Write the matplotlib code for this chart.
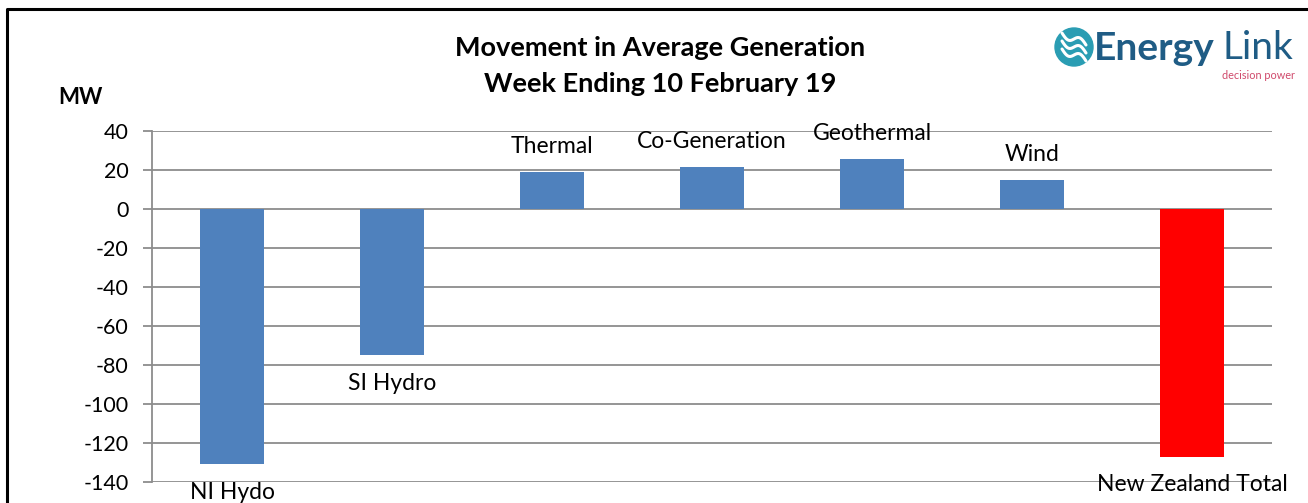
import matplotlib
matplotlib.use("Agg")
import matplotlib.pyplot as plt
import numpy as np
from matplotlib.patches import Circle

categories = ["NI Hydo", "SI Hydro", "Thermal", "Co-Generation", "Geothermal", "Wind", "New Zealand Total"]
values = [-131, -75, 19, 21.5, 25.5, 15, -127]
bar_colors = ["#4f81bd"] * 6 + ["#ff0000"]
yticks = [40, 20, 0, -20, -40, -60, -80, -100, -120, -140]

plt.rcParams['font.family'] = ['Lato', 'DejaVu Sans']

W, H = 1308, 503
fig = plt.figure(figsize=(W / 100, H / 100), dpi=100)
ax = fig.add_axes([152 / W, (H - 482) / H, (1272 - 152) / W, (482 - 131) / H])

x = list(range(len(categories)))
ax.bar(x, values, width=0.4, color=bar_colors, zorder=3)
ax.set_xlim(-0.5, len(categories) - 0.5)
ax.set_ylim(-140, 40)
ax.set_yticks(yticks)
ax.set_yticklabels([str(t) for t in yticks], fontsize=15.5)
ax.set_xticks([])
ax.grid(axis='y', color='#8c8c8c', linewidth=1.3, zorder=0)
for s in ['top', 'right', 'bottom']:
    ax.spines[s].set_visible(False)
ax.spines['left'].set_color('#8c8c8c')
ax.spines['left'].set_linewidth(1.3)
ax.tick_params(axis='y', length=6.5, width=1.3, color='#8c8c8c', pad=10.5)

for xi, v, name in zip(x, values, categories):
    off = 18.5 if v >= 0 else -20
    ax.annotate(name, (xi, v), xytext=(0, off), textcoords='offset points',
                ha='center', va='center', fontsize=16.5, annotation_clip=False, zorder=4)

fig.text(660 / W, 1 - 48 / H, "Movement in Average Generation", ha='center', va='center',
         fontsize=19.5, fontweight='bold')
fig.text(660 / W, 1 - 84 / H, "Week Ending 10 February 19", ha='center', va='center',
         fontsize=19.5, fontweight='bold')
fig.text(80 / W, 1 - 97 / H, "MW", ha='center', va='center', fontsize=16, fontweight='bold')

# logo
logo_ax = fig.add_axes([0, 0, 1, 1], facecolor='none')
logo_ax.set_xlim(0, W)
logo_ax.set_ylim(H, 0)
logo_ax.axis('off')
logo_ax.add_patch(Circle((1074, 47), 19, color='#2a9db3'))
t = np.linspace(-1, 1, 40)
for dy in (-8, 0, 8):
    xs = 1074 + 12 * t
    ys = 47 + dy - 4 * np.sin(np.pi * t) + 6 * t
    logo_ax.plot(xs, ys, color='white', linewidth=2.2, solid_capstyle='round')
logo_ax.text(1094, 48, "Energy", fontsize=28, fontweight='bold', color='#1f5c85',
             ha='left', va='center')
logo_ax.text(1223, 48, "Link", fontsize=28, color='#1f5c85', ha='left', va='center')
logo_ax.text(1295, 75, "decision power", fontsize=7.8, color='#d04a6c', ha='right', va='center')

# border
logo_ax.plot([7, 7, W], [H, 9, 9], color='black', linewidth=2.2, solid_capstyle='butt')

fig.savefig("out.png", dpi=100)
